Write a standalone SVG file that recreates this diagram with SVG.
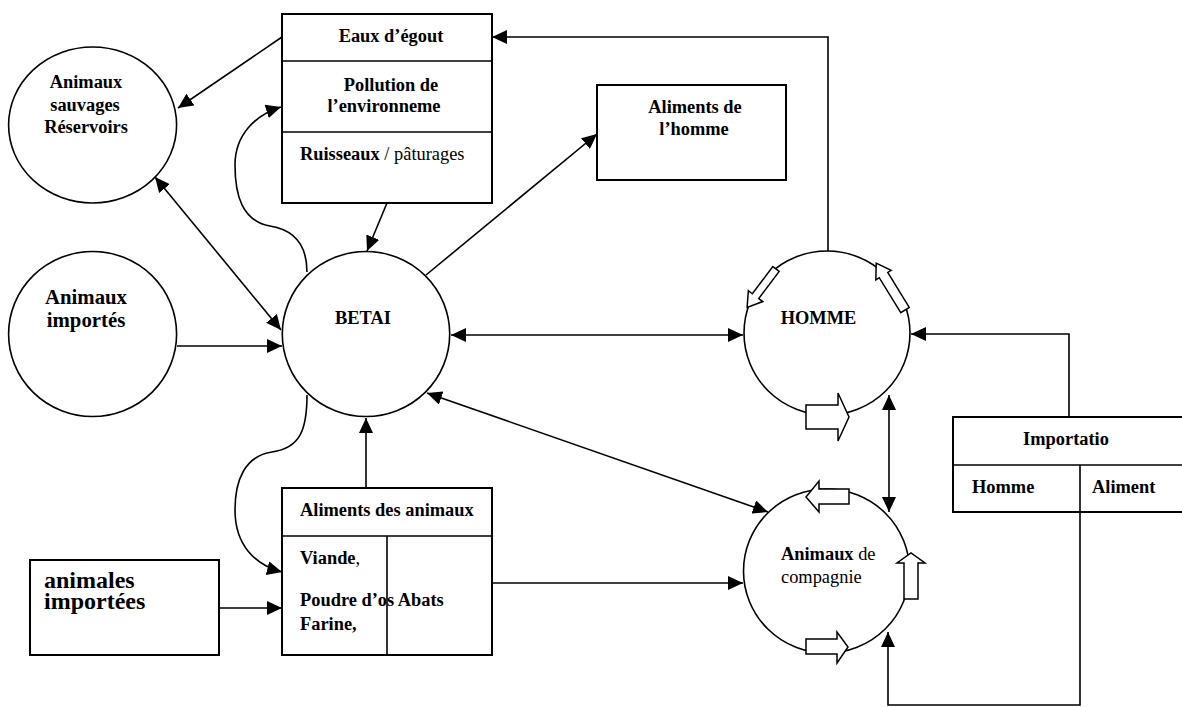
<svg xmlns="http://www.w3.org/2000/svg" width="1182" height="707" viewBox="0 0 1182 707">
<style>
.nd{fill:#fff;stroke:#000;stroke-width:1.6}
.bx{fill:#fff;stroke:#000;stroke-width:2}
.ln{fill:none;stroke:#000;stroke-width:1.6}
.ba{fill:#fff;stroke:#000;stroke-width:1.5;stroke-linejoin:miter}
text{font-family:"Liberation Serif","Times New Roman",serif;font-size:18.4px;font-weight:bold;fill:#000}
.m{text-anchor:middle}
.r{font-weight:normal}
</style>
<defs>
<marker id="ah" markerUnits="userSpaceOnUse" markerWidth="15" markerHeight="14" refX="15" refY="7" orient="auto-start-reverse" viewBox="0 0 15 14">
<path d="M0,0 L15,7 L0,14 z" fill="#000"/>
</marker>
</defs>
<rect x="0" y="0" width="1182" height="707" fill="#fff"/>

<g id="connectors">
<path class="ln" d="M282,37 L178,108" marker-end="url(#ah)"/>
<path class="ln" d="M281,330 L155,177" marker-start="url(#ah)" marker-end="url(#ah)"/>
<path class="ln" d="M307,272 C307,245 295,230 270,226 C242,221 235,195 235,165 C235,135 255,115 281,107" marker-end="url(#ah)"/>
<path class="ln" d="M387,203 L367,251" marker-end="url(#ah)"/>
<path class="ln" d="M426,275 L597,134" marker-end="url(#ah)"/>
<path class="ln" d="M828,251 V37 H492" marker-end="url(#ah)"/>
<path class="ln" d="M177,346 H282" marker-end="url(#ah)"/>
<path class="ln" d="M451,335 H743" marker-start="url(#ah)" marker-end="url(#ah)"/>
<path class="ln" d="M1069,417 V334 H911" marker-end="url(#ah)"/>
<path class="ln" d="M427,393 L768,512" marker-start="url(#ah)" marker-end="url(#ah)"/>
<path class="ln" d="M307,395 C307,430 300,448 272,452 C245,456 235,480 235,510 C235,545 255,565 282,572" marker-end="url(#ah)"/>
<path class="ln" d="M366,488 V418" marker-end="url(#ah)"/>
<path class="ln" d="M219,608 H282" marker-end="url(#ah)"/>
<path class="ln" d="M492,583 H743" marker-end="url(#ah)"/>
<path class="ln" d="M889,395 V512" marker-start="url(#ah)" marker-end="url(#ah)"/>
<path class="ln" d="M1080,512 V705 H888 V632" marker-end="url(#ah)"/>
</g>

<g id="eaux">
<rect class="bx" x="282" y="14" width="210" height="189"/>
<line class="ln" x1="282" y1="61" x2="492" y2="61"/>
<line class="ln" x1="282" y1="132" x2="492" y2="132"/>
<text class="m" x="391" y="42">Eaux d’égout</text>
<text class="m" x="391" y="91">Pollution de</text>
<text class="m" x="384" y="112">l’environneme</text>
<text x="300" y="160">Ruisseaux<tspan class="r"> / pâturages</tspan></text>
</g>

<g id="sauvages">
<ellipse class="nd" cx="92.6" cy="125" rx="84" ry="78"/>
<text class="m" x="86" y="88">Animaux</text>
<text class="m" x="85" y="111">sauvages</text>
<text class="m" x="86" y="133">Réservoirs</text>
</g>

<g id="aliments-homme">
<rect class="bx" x="597" y="85" width="189" height="95"/>
<text class="m" x="695" y="113">Aliments de</text>
<text class="m" x="694" y="135">l’homme</text>
</g>

<g id="importes">
<ellipse class="nd" cx="92.6" cy="334" rx="84" ry="82.5"/>
<text class="m" x="86" y="304" style="font-size:20.8px">Animaux</text>
<text class="m" x="86" y="327" style="font-size:20.8px">importés</text>
</g>

<g id="betai">
<ellipse class="nd" cx="366" cy="334" rx="83.7" ry="82.5"/>
<text class="m" x="363" y="324">BETAI</text>
</g>

<g id="homme">
<ellipse class="nd" cx="827" cy="333" rx="83" ry="82"/>
<text class="m" x="818.5" y="324">HOMME</text>
<polygon class="ba" transform="translate(776,269) rotate(127)" points="0,-4 34,-4 34,-9 48,0 34,9 34,4 0,4"/>
<polygon class="ba" transform="translate(905,310) rotate(-121.6)" points="0,-5 41,-5 41,-9 55,0 41,9 41,5 0,5"/>
<polygon class="ba" points="806,405 838,405 838,393 849,417 838,441 838,429 806,429"/>
</g>

<g id="compagnie">
<ellipse class="nd" cx="826.5" cy="571" rx="83" ry="82"/>
<text x="781" y="560">Animaux<tspan class="r"> de</tspan></text>
<text class="r" x="781" y="583">compagnie</text>
<polygon class="ba" points="849,489 819,489 819,481 806,497 819,512 819,504 849,504"/>
<polygon class="ba" points="904,599 904,563 897,563 911,553 925,563 918,563 918,599"/>
<polygon class="ba" points="806,639 837,639 837,632 848,647 837,663 837,654 806,654"/>
</g>

<g id="importation">
<rect class="bx" x="953" y="417" width="240" height="95"/>
<line class="ln" x1="953" y1="465" x2="1182" y2="465"/>
<line class="ln" x1="1080" y1="465" x2="1080" y2="512"/>
<text class="m" x="1066" y="445">Importatio</text>
<text x="972" y="493">Homme</text>
<text x="1092" y="493">Aliment</text>
</g>

<g id="aliments-animaux">
<rect class="bx" x="282" y="488" width="210" height="167"/>
<line class="ln" x1="282" y1="536" x2="492" y2="536"/>
<line class="ln" x1="387" y1="536" x2="387" y2="655"/>
<text x="300" y="516">Aliments des animaux</text>
<text x="300" y="564">Viande<tspan class="r">,</tspan></text>
<text x="300" y="606">Poudre d’os Abats</text>
<text x="300" y="630">Farine,</text>
</g>

<g id="animales">
<rect class="bx" x="30" y="560" width="189" height="95"/>
<text x="44" y="588" style="font-size:24px">animales</text>
<text x="44" y="609" style="font-size:24px">importées</text>
</g>
</svg>
